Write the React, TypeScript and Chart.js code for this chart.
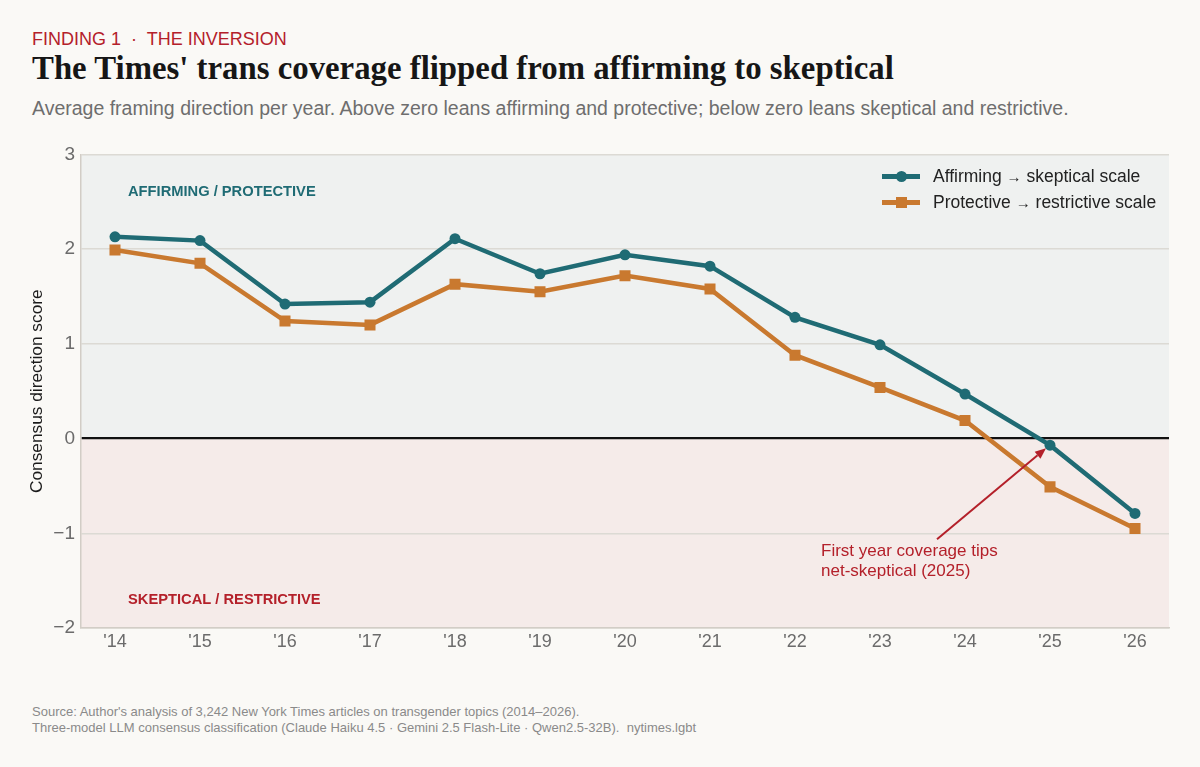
import React, { useEffect, useRef } from "react";
import { Chart, registerables } from "chart.js";

Chart.register(...registerables);

const years = ["'14", "'15", "'16", "'17", "'18", "'19", "'20", "'21", "'22", "'23", "'24", "'25", "'26"];
const affirmingScale = [2.13, 2.09, 1.42, 1.44, 2.11, 1.74, 1.94, 1.82, 1.28, 0.99, 0.47, -0.07, -0.79];
const protectiveScale = [1.99, 1.85, 1.24, 1.2, 1.63, 1.55, 1.72, 1.58, 0.88, 0.54, 0.19, -0.51, -0.95];
const yTicks = [-2, -1, 0, 1, 2, 3];
const seriesNames = ["Affirming", "Protective"];
const seriesTails = ["skeptical scale", "restrictive scale"];
const tipYearIndex = 11;

const TEAL = "#1f6b74";
const ORANGE = "#c9792f";
const RED = "#b4202a";
const SANS = "'Liberation Sans', Arial, sans-serif";
const SERIF = "'Liberation Serif', 'Times New Roman', serif";

const bgPlugin = {
  id: "bgZones",
  beforeDraw(chart: any) {
    const { ctx, chartArea, scales } = chart;
    const y0 = scales.y.getPixelForValue(0);
    ctx.save();
    ctx.fillStyle = "#eff1f0";
    ctx.fillRect(chartArea.left, chartArea.top, chartArea.right - chartArea.left, y0 - chartArea.top);
    ctx.fillStyle = "#f5ebe9";
    ctx.fillRect(chartArea.left, y0, chartArea.right - chartArea.left, chartArea.bottom - y0);
    ctx.font = `bold 14.7px ${SANS}`;
    ctx.textBaseline = "middle";
    ctx.textAlign = "left";
    ctx.fillStyle = TEAL;
    ctx.fillText("AFFIRMING / PROTECTIVE", chartArea.left + 47, scales.y.getPixelForValue(2.6));
    ctx.fillStyle = RED;
    ctx.fillText("SKEPTICAL / RESTRICTIVE", chartArea.left + 47, scales.y.getPixelForValue(-1.7));
    ctx.restore();
  },
};

const annotationPlugin = {
  id: "tipNote",
  afterDatasetsDraw(chart: any) {
    const { ctx, scales } = chart;
    const px = scales.x.getPixelForValue(tipYearIndex);
    const py = scales.y.getPixelForValue(affirmingScale[tipYearIndex]);
    const tx = px - 4;
    const ty = py + 3;
    const sx = px - 113;
    const sy = py + 94;
    ctx.save();
    ctx.strokeStyle = RED;
    ctx.fillStyle = RED;
    ctx.lineWidth = 2;
    const ang = Math.atan2(ty - sy, tx - sx);
    const headLen = 11;
    const hx = tx - headLen * Math.cos(ang);
    const hy = ty - headLen * Math.sin(ang);
    ctx.beginPath();
    ctx.moveTo(sx, sy);
    ctx.lineTo(hx, hy);
    ctx.stroke();
    ctx.beginPath();
    ctx.moveTo(tx, ty);
    ctx.lineTo(hx + 4.5 * Math.sin(ang), hy - 4.5 * Math.cos(ang));
    ctx.lineTo(hx - 4.5 * Math.sin(ang), hy + 4.5 * Math.cos(ang));
    ctx.closePath();
    ctx.fill();
    ctx.font = `17px ${SANS}`;
    ctx.textAlign = "left";
    ctx.textBaseline = "alphabetic";
    ctx.fillText("First year coverage tips", px - 229, py + 111);
    ctx.fillText("net-skeptical (2025)", px - 229, py + 131);
    ctx.restore();
  },
};

function LegendRow({ color, square, name, tail }: { color: string; square: boolean; name: string; tail: string }) {
  return (
    <div style={{ display: "flex", alignItems: "center", height: 26 }}>
      <div style={{ position: "relative", width: 38, height: 12, marginRight: 13 }}>
        <div style={{ position: "absolute", left: 0, top: 4, width: 38, height: 4.5, background: color }} />
        <div
          style={{
            position: "absolute",
            left: 14,
            top: 0.5,
            width: 11,
            height: 11,
            borderRadius: square ? 0 : "50%",
            background: color,
          }}
        />
      </div>
      <span style={{ fontSize: 17.5, color: "#222", whiteSpace: "nowrap" }}>
        {name} <span style={{ fontSize: 15 }}>→</span> {tail}
      </span>
    </div>
  );
}

export default function App() {
  const ref = useRef<HTMLCanvasElement>(null);

  useEffect(() => {
    if (!ref.current) return;
    const chart = new Chart(ref.current, {
      type: "line",
      data: {
        datasets: [
          {
            label: seriesNames[0],
            data: affirmingScale.map((v, i) => ({ x: i, y: v })),
            borderColor: TEAL,
            backgroundColor: TEAL,
            borderWidth: 4.5,
            pointStyle: "circle",
            pointRadius: 5.5,
            pointBorderWidth: 0,
            tension: 0,
          },
          {
            label: seriesNames[1],
            data: protectiveScale.map((v, i) => ({ x: i, y: v })),
            borderColor: ORANGE,
            backgroundColor: ORANGE,
            borderWidth: 4.5,
            pointStyle: "rect",
            pointRadius: 7.8,
            pointBorderWidth: 0,
            tension: 0,
          },
        ],
      },
      options: {
        responsive: false,
        animation: false,
        layout: { padding: { top: 0, right: 31, bottom: 0, left: 0 } },
        plugins: { legend: { display: false }, tooltip: { enabled: false } },
        scales: {
          x: {
            type: "linear",
            min: -0.4,
            max: 12.4,
            afterBuildTicks: (scale: any) => {
              scale.ticks = years.map((_, i) => ({ value: i }));
            },
            afterFit: (scale: any) => {
              scale.height = 42;
            },
            ticks: {
              callback: (v: any) => years[v] ?? "",
              color: "#6b6b6b",
              font: { size: 18, family: SANS },
              padding: 3,
              maxRotation: 0,
              autoSkip: false,
            },
            grid: { display: false, drawTicks: false },
            border: { display: true, color: "#d2cdc6", width: 1.5 },
          },
          y: {
            type: "linear",
            min: -2,
            max: 3,
            afterBuildTicks: (scale: any) => {
              scale.ticks = yTicks.map((v) => ({ value: v }));
            },
            afterFit: (scale: any) => {
              scale.width = 81;
            },
            ticks: {
              callback: (v: any) => String(v).replace("-", "\u2212"),
              color: "#6b6b6b",
              font: { size: 19, family: SANS },
              padding: 6,
            },
            grid: {
              drawTicks: false,
              color: (c: any) => (c.tick && c.tick.value === 0 ? "#111111" : "#dcdad4"),
              lineWidth: (c: any) => (c.tick && c.tick.value === 0 ? 2.2 : 1.5),
            },
            border: { display: true, color: "#d2cdc6", width: 1.5 },
            title: {
              display: true,
              text: "Consensus direction score",
              color: "#1a1a1a",
              font: { size: 17.3, family: SANS },
              padding: { top: 27, bottom: 0 },
            },
          },
        },
      },
      plugins: [bgPlugin, annotationPlugin],
    } as any);
    return () => chart.destroy();
  }, []);

  return (
    <div
      style={{
        position: "fixed",
        left: 0,
        top: 0,
        width: 1200,
        height: 767,
        background: "#faf9f6",
        fontFamily: SANS,
        overflow: "hidden",
      }}
    >
      <div style={{ position: "absolute", left: 32, top: 28, fontSize: 18, lineHeight: "22px", color: RED, whiteSpace: "nowrap" }}>
        FINDING 1 &nbsp;·&nbsp; THE INVERSION
      </div>
      <div
        style={{
          position: "absolute",
          left: 32,
          top: 49,
          fontSize: 32.8,
          lineHeight: "38px",
          fontFamily: SERIF,
          fontWeight: "bold",
          color: "#161616",
          whiteSpace: "nowrap",
        }}
      >
        The Times' trans coverage flipped from affirming to skeptical
      </div>
      <div style={{ position: "absolute", left: 32, top: 97, fontSize: 19.5, lineHeight: "22px", color: "#6e6e6e", whiteSpace: "nowrap" }}>
        Average framing direction per year. Above zero leans affirming and protective; below zero leans skeptical and restrictive.
      </div>
      <canvas ref={ref} width={1200} height={533} style={{ position: "absolute", left: 0, top: 137, width: 1200, height: 533 }} />
      <div style={{ position: "absolute", left: 882, top: 163 }}>
        <LegendRow color={TEAL} square={false} name={seriesNames[0]} tail={seriesTails[0]} />
        <LegendRow color={ORANGE} square={true} name={seriesNames[1]} tail={seriesTails[1]} />
      </div>
      <div style={{ position: "absolute", left: 32, top: 704, fontSize: 13, lineHeight: "16px", color: "#8a8a8a", whiteSpace: "nowrap" }}>
        <div>Source: Author's analysis of 3,242 New York Times articles on transgender topics (2014–2026).</div>
        <div>Three-model LLM consensus classification (Claude Haiku 4.5 · Gemini 2.5 Flash-Lite · Qwen2.5-32B).&nbsp; nytimes.lgbt</div>
      </div>
    </div>
  );
}
